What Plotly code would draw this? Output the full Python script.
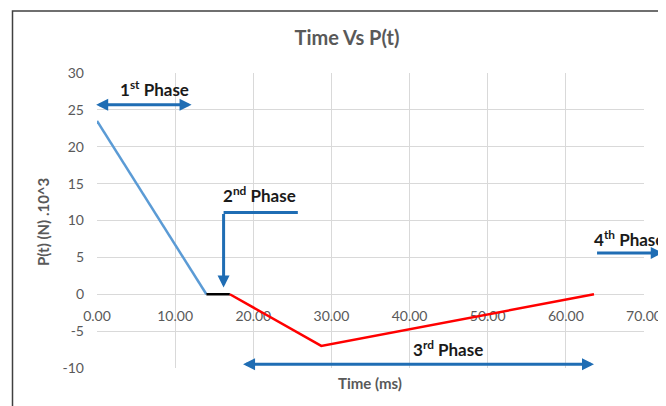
import plotly.graph_objects as go

# ---- data ----
phase1_t = [0.0, 14.0]
phase1_p = [23.5, 0.0]
phase2_t = [14.0, 17.0]
phase2_p = [0.0, 0.0]
phase3_t = [17.0, 28.7, 63.6]
phase3_p = [0.0, -7.0, 0.0]

x_ticks = [0, 10, 20, 30, 40, 50, 60, 70]
x_tick_labels = ["0.00", "10.00", "20.00", "30.00", "40.00", "50.00", "60.00", "70.00"]
y_ticks = [-10, -5, 0, 5, 10, 15, 20, 25, 30]
y_tick_labels = ["-10", "-5", "0", "5", "10", "15", "20", "25", "30"]

FONT = "Lato"
GRAY = "#595959"
GRID = "#d9d9d9"
ARROW = "#1f6db4"
TXT = "#1a1a1a"

fig = go.Figure()
fig.add_trace(go.Scatter(x=phase1_t, y=phase1_p, mode="lines",
                         line=dict(color="#5b9bd5", width=2.5), showlegend=False))
fig.add_trace(go.Scatter(x=phase2_t, y=phase2_p, mode="lines",
                         line=dict(color="#000000", width=2.5), showlegend=False))
fig.add_trace(go.Scatter(x=phase3_t, y=phase3_p, mode="lines",
                         line=dict(color="#ff0000", width=2.5), showlegend=False))

AH = dict(showarrow=True, arrowhead=2, arrowsize=0.8, arrowwidth=3, arrowcolor=ARROW, text="",
          xref="x", yref="y", axref="x", ayref="y")
ann = []
# 1st phase
ann.append(dict(x=12.1, y=25.7, ax=-0.3, ay=25.7, arrowside="end+start", **AH))
ann.append(dict(x=7.4, y=27.9, xref="x", yref="y", showarrow=False, xanchor="center",
                text="<b>1<sup>st</sup> Phase</b>", font=dict(family=FONT, size=17, color=TXT)))
# 2nd phase
ann.append(dict(x=16.2, y=0.9, ax=16.2, ay=11.1, **AH))
ann.append(dict(x=20.8, y=13.5, xref="x", yref="y", showarrow=False, xanchor="center",
                text="<b>2<sup>nd</sup> Phase</b>", font=dict(family=FONT, size=17, color=TXT)))
# 3rd phase
ann.append(dict(x=63.6, y=-9.5, ax=18.5, ay=-9.5, arrowside="end+start", **AH))
ann.append(dict(x=44.9, y=-7.3, xref="x", yref="y", showarrow=False, xanchor="center",
                text="<b>3<sup>rd</sup> Phase</b>", font=dict(family=FONT, size=17, color=TXT)))
# 4th phase
ann.append(dict(x=72.4, y=5.6, ax=63.8, ay=5.6, **AH))
ann.append(dict(x=63.3, y=7.6, xref="x", yref="y", showarrow=False, xanchor="left",
                text="<b>4<sup>th</sup> Phase</b>", font=dict(family=FONT, size=17, color=TXT)))
# axis titles
ann.append(dict(x=(370 - 97) / 547, y=(368 - 383) / 295, xref="paper", yref="paper", showarrow=False,
                xanchor="center", yanchor="middle",
                text="<b>Time (ms)</b>", font=dict(family=FONT, size=15, color=GRAY)))
ann.append(dict(x=(43 - 97) / 547, y=(368 - 222) / 295, xref="paper", yref="paper", showarrow=False,
                xanchor="center", yanchor="middle", textangle=-90,
                text="<b>P(t) (N) .10^3</b>", font=dict(family=FONT, size=15, color=GRAY)))

shapes = [
    dict(type="line", xref="x", yref="y", x0=16.2, x1=25.7, y0=11.1, y1=11.1,
         line=dict(color=ARROW, width=3)),
    dict(type="rect", xref="paper", yref="paper", x0=(12.5 - 97) / 547, x1=1.06,
         y0=-0.2, y1=(368 - 11) / 295,
         line=dict(color="#404040", width=1.5), layer="below"),
]

# page body has an 8px margin, so figure coordinates are offset by 8px
fig.update_layout(
    width=658, height=398,
    margin=dict(l=89, r=22, t=65, b=38),
    paper_bgcolor="white", plot_bgcolor="white",
    title=dict(text="<b>Time Vs P(t)</b>", x=339 / 658, xanchor="center", y=1 - 30 / 398,
               yanchor="middle", font=dict(family=FONT, size=20, color=GRAY)),
    xaxis=dict(range=[0, 70], tickvals=x_ticks, ticktext=x_tick_labels, showgrid=True,
               gridcolor=GRID, gridwidth=1, zeroline=False, anchor="free", position=0.25,
               showline=True, linecolor=GRID, linewidth=1, layer="below traces",
               automargin=False,
               ticklabelstandoff=9, tickfont=dict(family=FONT, size=14, color=GRAY)),
    yaxis=dict(range=[-10, 30], tickvals=y_ticks, ticktext=y_tick_labels, showgrid=True,
               gridcolor=GRID, gridwidth=1, zeroline=False, showline=False, ticklabelstandoff=12,
               automargin=False,
               tickfont=dict(family=FONT, size=14, color=GRAY)),
    annotations=ann, shapes=shapes,
)

fig.write_html("out.html")
